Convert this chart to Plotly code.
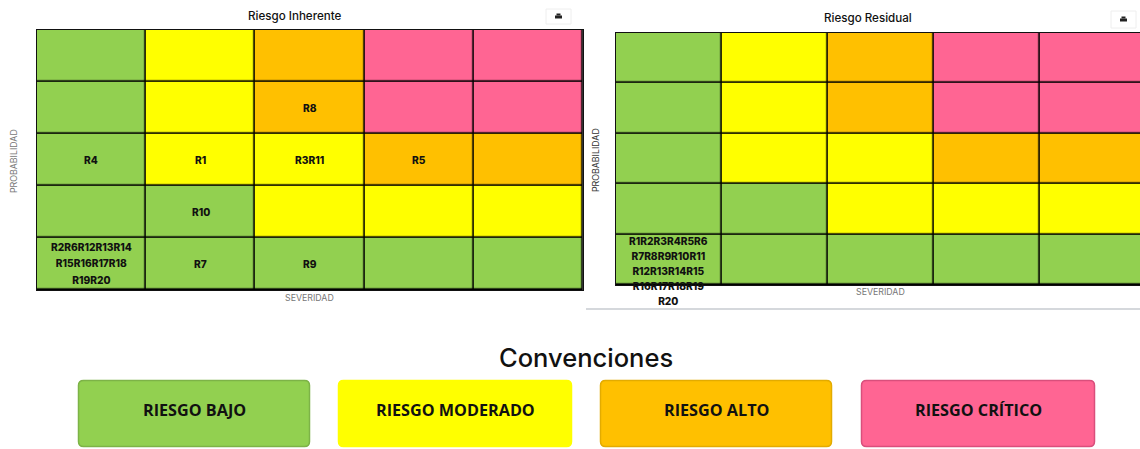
import plotly.graph_objects as go

W, H = 1140, 449

# Risk level of each cell, bottom row first (0 bajo, 1 moderado, 2 alto, 3 crítico)
severidad = [1, 2, 3, 4, 5]
probabilidad = [1, 2, 3, 4, 5]
niveles = [
    [0, 0, 0, 0, 0],
    [0, 0, 1, 1, 1],
    [0, 1, 1, 2, 2],
    [0, 1, 2, 3, 3],
    [0, 1, 2, 3, 3],
]
colores = ["#92D050", "#FFFF00", "#FFC000", "#FF6593"]
nombres = ["RIESGO BAJO", "RIESGO MODERADO", "RIESGO ALTO", "RIESGO CRÍTICO"]
borde_conv = ["#7DB347", "#FFFF00", "#E3AB00", "#D94F7C"]

# (severidad, probabilidad, labels)
inherente = [
    (1, 3, ["R4"]), (2, 3, ["R1"]), (3, 3, ["R3R11"]), (4, 3, ["R5"]),
    (3, 4, ["R8"]), (2, 2, ["R10"]),
    (1, 1, ["R2R6R12R13R14", "R15R16R17R18", "R19R20"]),
    (2, 1, ["R7"]), (3, 1, ["R9"]),
]
residual = [
    (1, 1, ["R1R2R3R4R5R6", "R7R8R9R10R11", "R12R13R14R15", "R16R17R18R19", "R20"]),
]


def px(x):
    return x / W


def py(y):
    return 1 - y / H


def rounded(x0, y0, x1, y1, r):
    a, b, c, d = px(x0), py(y0), px(x1), py(y1)
    rx, ry = r / W, r / H
    return (f"M{a + rx},{b} L{c - rx},{b} Q{c},{b} {c},{b - ry} L{c},{d + ry} Q{c},{d} {c - rx},{d} "
            f"L{a + rx},{d} Q{a},{d} {a},{d + ry} L{a},{b - ry} Q{a},{b} {a + rx},{b} Z")


scale = []
for i, c in enumerate(colores):
    scale += [[i / 4, c], [(i + 1) / 4, c]]

fig = go.Figure()
for suf, gap in (("", 1.6), ("2", 1.6)):
    fig.add_trace(go.Heatmap(
        x=severidad, y=probabilidad, z=niveles, xaxis="x" + suf, yaxis="y" + suf,
        colorscale=scale, zmin=-0.5, zmax=3.5, showscale=False, xgap=gap, ygap=gap,
        hoverinfo="skip"))

axis = dict(showgrid=False, zeroline=False, showticklabels=False, ticks="",
            showline=True, linecolor="#111111", linewidth=1, mirror=True, fixedrange=True)

annotations = []


def label(x, y, text, xref="paper", yref="paper", size=10, color="#111111", family="Inter",
          angle=0, yshift=0, weight=None):
    font = dict(family=family, size=size, color=color)
    if weight:
        font["weight"] = weight
    annotations.append(dict(x=x, y=y, xref=xref, yref=yref, text=text, showarrow=False,
                            textangle=angle, yshift=yshift, xanchor="center", yanchor="middle",
                            font=font))


def cell_labels(rows, xref, yref, size, yshift=0):
    for s, p, lines in rows:
        body = "<br>".join(f'<span style="font-size:10.2px;font-weight:800">{t}</span>' for t in lines)
        label(s, p, body, xref, yref, size=size, yshift=yshift if len(lines) > 3 else 0)


cell_labels(inherente, "x", "y", 12.6)
cell_labels(residual, "x2", "y2", 11.6, yshift=-11)

label(px(295.5), py(16), "Riesgo Inherente", size=11.6, weight=500)
label(px(868), py(18), "Riesgo Residual", size=11.6, weight=500)
label(px(309), py(297), "SEVERIDAD", size=8.8, color="#777777")
label(px(880), py(291), "SEVERIDAD", size=8.8, color="#777777")
label(px(13), py(161), "PROBABILIDAD", size=8.8, color="#777777", angle=-90)
label(px(595), py(160), "PROBABILIDAD", size=8.8, color="#333333", angle=-90)
label(px(585.5), py(357), "Convenciones", size=25.5, color="#111111", weight=500)

shapes = []
for (a, b, c, d) in ((546, 9, 571, 24), (1111, 11, 1136, 28)):
    shapes.append(dict(type="rect", xref="paper", yref="paper", x0=px(a), x1=px(c), y0=py(b), y1=py(d),
                       fillcolor="white", line=dict(color="#EEEEEE", width=1), layer="below"))
    mx, my = (a + c) / 2, (b + d) / 2
    shapes.append(dict(type="rect", xref="paper", yref="paper", x0=px(mx - 3.5), x1=px(mx + 3.5),
                       y0=py(my - 1), y1=py(my + 2), fillcolor="#222222", line=dict(width=0)))
    shapes.append(dict(type="rect", xref="paper", yref="paper", x0=px(mx - 2), x1=px(mx + 2),
                       y0=py(my - 3), y1=py(my - 1), fillcolor="#222222", line=dict(width=0)))

shapes.append(dict(type="line", xref="paper", yref="paper", x0=px(586), x1=1, y0=py(309), y1=py(309),
                   line=dict(color="#D5D8DC", width=2)))

cajas = [(78.5, 309.5), (338.5, 571.5), (600.5, 831.5), (861.5, 1094.5)]
for (a, b), c, bc, n in zip(cajas, colores, borde_conv, nombres):
    shapes.append(dict(type="path", xref="paper", yref="paper", path=rounded(a, 380.5, b, 446.5, 5),
                       fillcolor=c, line=dict(color=bc, width=1.5)))
    label(px((a + b) / 2), py(410), n, size=16.2, family="Open Sans", color="#111111", weight=700)

fig.update_layout(
    width=W, height=H, autosize=False, margin=dict(l=0, r=0, t=0, b=0),
    paper_bgcolor="white", plot_bgcolor="#000000", showlegend=False,
    xaxis=dict(axis, domain=[px(36.8), px(582.8)], range=[0.5, 5.5], anchor="y"),
    yaxis=dict(axis, domain=[py(290), py(29.8)], range=[0.5, 5.5], anchor="x"),
    xaxis2=dict(axis, domain=[px(615.8), 1], range=[0.5, 5.44], anchor="y2"),
    yaxis2=dict(axis, domain=[py(285), py(32.8)], range=[0.5, 5.5], anchor="x2"),
    annotations=annotations, shapes=shapes,
)
fig.write_html("out.html", config={"displayModeBar": False},
               post_script="document.body.style.margin='0';document.body.style.overflow='hidden';")
